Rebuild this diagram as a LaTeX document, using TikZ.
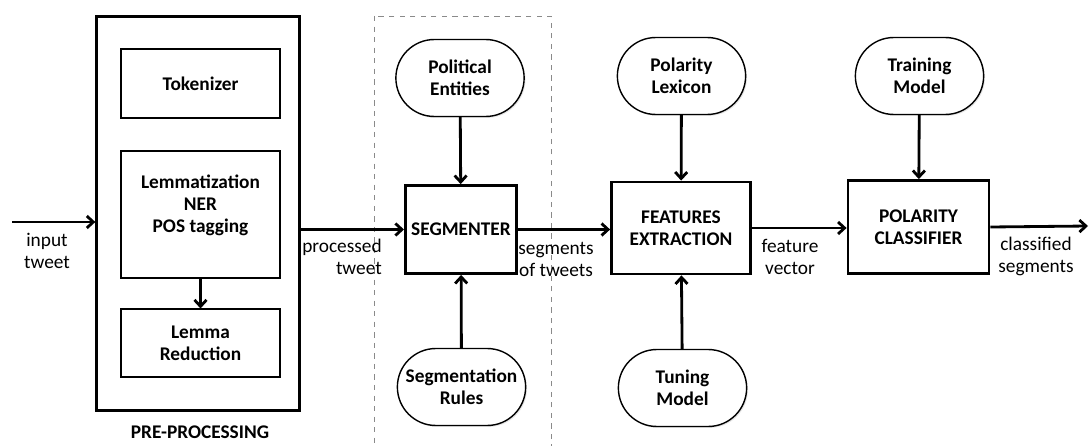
\documentclass[tikz,border=0pt]{standalone}
\usepackage{fontspec}
\setmainfont{Carlito}
\usepackage{tikz}
\usetikzlibrary{arrows.meta,shapes.misc,shadows}
\definecolor{dashgray}{HTML}{8A8A8A}

\begin{document}
\begin{tikzpicture}[x=0.02cm, y=-0.02cm,
  txt/.style={font=\fontsize{11}{12.5}\selectfont, align=center},
  stage/.style={txt, font=\bfseries\fontsize{11}{12.5}\selectfont, draw, line width=1.6pt,
    fill=white, drop shadow={opacity=0.2, shadow xshift=0.8pt, shadow yshift=-0.8pt}},
  inner/.style={stage, line width=0.6pt},
  resource/.style={txt, font=\bfseries\fontsize{11}{12.5}\selectfont, draw, line width=0.8pt,
    rounded rectangle, minimum width=2.8cm, minimum height=1.54cm, fill=white,
    drop shadow={opacity=0.2, shadow xshift=0.8pt, shadow yshift=-0.8pt}},
  flow/.style={line width=1.6pt, -{Straight Barb[length=1.3mm,width=2.4mm,line width=1.6pt]}}]
  \useasboundingbox (0,0) rectangle (1089,446);

  % segmentation group
  \draw[dashgray, dashed, line width=0.5pt] (374,16) rectangle (551,450);

  % pre-processing block
  \node[stage, minimum width=4.05cm, minimum height=7.87cm] (pre) at (198,213.5) {};
  \node[inner, minimum width=3.18cm, minimum height=1.38cm] (tok) at (200.5,83.5) {Tokenizer};
  \node[inner, minimum width=3.18cm, minimum height=2.54cm] (lem) at (200.5,214.5)
    {Lemmatization\\NER\\POS tagging\\\mbox{}};
  \node[inner, minimum width=3.18cm, minimum height=1.36cm] (red) at (200.5,343) {Lemma\\Reduction};
  \node[txt, font=\bfseries\fontsize{11}{12.5}\selectfont] (prelbl) at (200,432) {PRE-PROCESSING};

  % main chain
  \node[stage, minimum width=2.1cm, minimum height=1.76cm] (seg) at (461,229.5) {SEGMENTER};
  \node[stage, minimum width=2.78cm, minimum height=1.84cm] (feat) at (681,228) {FEATURES\\EXTRACTION};
  \node[stage, minimum width=2.82cm, minimum height=1.86cm] (clf) at (918.5,227) {POLARITY\\CLASSIFIER};

  % resources
  \node[resource] (ent) at (460,78) {Political\\Entities};
  \node[resource] (rules) at (461.5,387) {Segmentation\\Rules};
  \node[resource] (lex) at (681.5,76) {Polarity\\Lexicon};
  \node[resource] (tune) at (682.5,388) {Tuning\\Model};
  \node[resource] (train) at (919.5,76) {Training\\Model};

  \coordinate (in) at (12,222);
  \coordinate (out) at (1088,226);

  \draw[flow] (in) -- (in -| pre.west);
  \draw[flow] (lem.south) -- (red.north);
  \draw[flow] (seg.west -| pre.east) -- (seg.west);
  \draw[flow] (seg.east) -- (seg.east -| feat.west);
  \draw[flow] (feat.east) -- (feat.east -| clf.west);
  \draw[flow] (clf.east) -- (out);
  \draw[flow] (ent) -- (seg);
  \draw[flow] (rules) -- (seg);
  \draw[flow] (lex) -- (feat);
  \draw[flow] (tune) -- (feat);
  \draw[flow] (train) -- (clf);

  % edge labels
  \node[txt] (l1) at (47,251) {input\\tweet};
  \node[txt, align=right] (l2) at (342,257) {processed\\tweet};
  \node[txt] (l3) at (556,259) {segments\\of tweets};
  \node[txt] (l4) at (790,257) {feature\\vector};
  \node[txt] (l5) at (1036,256) {classified\\segments};
\end{tikzpicture}
\end{document}
